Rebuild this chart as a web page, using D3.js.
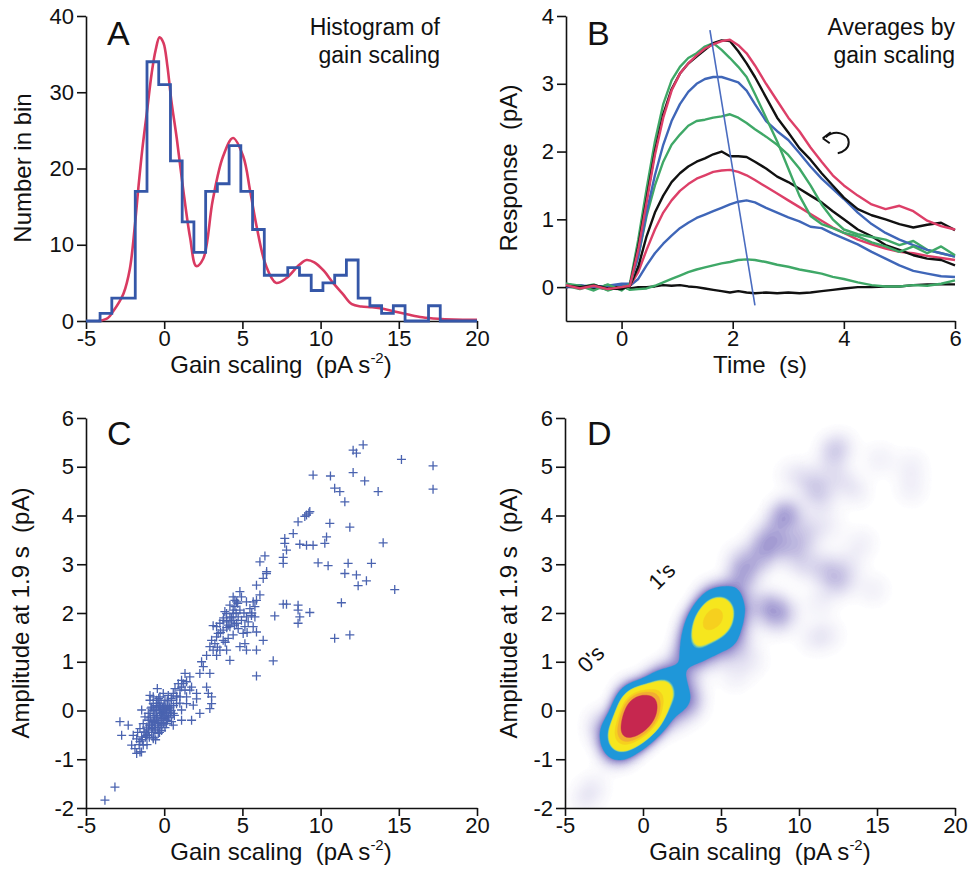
<!DOCTYPE html>
<html><head><meta charset="utf-8">
<script src="https://cdn.jsdelivr.net/npm/d3@7"></script>
<style>
body{margin:0;background:#fff}
svg{display:block}
text{font-family:"Liberation Sans",Arial,Helvetica,sans-serif;fill:#111}
</style>
</head><body>
<svg id="fig" width="969" height="880"></svg>
<script>
// ---------------- DATA ----------------
// Panel A: histogram of gain scaling
const histStart = -4.1, histWidth = 0.75;
const histCounts = [1,3,3,17,34,31,21,13,9,17,18,23,17,12,6,6,7,6,4,5,6,8,3,2,1,2,0,0,2];
// Panel A: fitted curve
const fitX = [-4.2,-3.6,-3.25,-2.9,-2.6,-2.2,-1.9,-1.65,-1.4,-1.1,-0.8,-0.55,-0.3,-0.05,0.2,0.45,0.8,1.2,1.65,2.05,2.5,3.1,3.75,4.4,5.05,5.5,5.9,6.5,7.15,7.8,8.6,9.1,9.6,10.2,10.8,11.4,12.0,12.6,13.3,14.0,14.8,15.6,16.5,17.5,18.5,20];
const fitY = [0,0.4,1.3,2.4,3.6,6.8,12.0,17.5,22.5,27.5,32.5,35.5,37.2,36.5,33.5,29,24,17.5,11,7.2,8.2,15.8,21.5,24,21.6,17,12.5,7.3,5.0,5.6,7.3,8.0,7.7,6.6,5.0,3.6,2.2,1.9,1.8,1.6,1.2,0.85,0.5,0.3,0.2,0.15];
const histXTicks = [-5,0,5,10,15,20];
const histYTicks = [0,10,20,30,40];

// Panel B: averaged responses
const traceTime = [-1,-0.75,-0.5,-0.25,0,0.15,0.3,0.45,0.6,0.75,0.9,1.05,1.2,1.35,1.5,1.65,1.8,1.95,2.1,2.25,2.4,2.6,2.8,3.0,3.2,3.4,3.6,3.8,4.0,4.25,4.5,4.75,5.0,5.25,5.5,5.75,6.0];
const traceBlackLow = [0,0.02,0,-0.03,0,-0.02,0,0,0.01,0.03,0.02,0.03,0.01,0,-0.02,-0.04,-0.06,-0.08,-0.06,-0.08,-0.09,-0.08,-0.09,-0.08,-0.09,-0.08,-0.06,-0.04,-0.02,0,0,0.01,0.01,0.03,0.04,0.04,0.04];
const traceGreenLow = [0.05,0,0.04,-0.05,0.02,-0.04,-0.03,-0.02,0.02,0.07,0.12,0.17,0.22,0.26,0.29,0.32,0.35,0.37,0.4,0.41,0.4,0.37,0.33,0.3,0.26,0.23,0.2,0.15,0.12,0.07,0.03,0.01,0.01,0.03,0.02,0.05,0.1];
const traceBlueMid = [0,0,0.02,0,0.03,0.02,0.12,0.32,0.5,0.64,0.76,0.87,0.95,1.02,1.07,1.12,1.17,1.22,1.26,1.28,1.25,1.17,1.1,1.03,0.97,0.89,0.87,0.79,0.72,0.63,0.52,0.42,0.32,0.24,0.2,0.16,0.15];
const traceRedMid = [0,0.01,-0.01,0,0,0.02,0.22,0.55,0.85,1.1,1.28,1.42,1.52,1.6,1.65,1.7,1.72,1.73,1.7,1.65,1.58,1.48,1.38,1.28,1.18,1.08,0.98,0.88,0.8,0.7,0.63,0.57,0.52,0.5,0.46,0.43,0.4];
const traceBlackMid = [0,0.02,-0.02,0.03,-0.02,0.02,0.3,0.75,1.1,1.35,1.55,1.68,1.78,1.85,1.9,1.96,2.0,1.93,1.93,1.92,1.85,1.75,1.63,1.55,1.45,1.35,1.25,1.12,1.0,0.85,0.75,0.62,0.55,0.47,0.42,0.4,0.32];
const traceGreenMid = [0.02,-0.03,0.03,-0.04,0,0.03,0.45,1.05,1.5,1.85,2.1,2.25,2.38,2.45,2.47,2.5,2.52,2.55,2.5,2.42,2.33,2.22,2.1,1.95,1.75,1.5,1.22,1.0,0.85,0.78,0.74,0.7,0.62,0.68,0.55,0.5,0.45];
const traceBlueTop = [0,0.03,0,0.02,0.05,0.05,0.45,1.1,1.65,2.1,2.45,2.7,2.88,3.0,3.07,3.1,3.1,3.06,3.02,2.9,2.7,2.45,2.3,2.17,1.98,1.78,1.6,1.45,1.3,1.1,0.93,0.8,0.7,0.62,0.55,0.5,0.45];
const traceGreenTop = [0.05,0.02,-0.05,0.04,-0.05,0.05,0.7,1.45,2.15,2.7,3.05,3.25,3.38,3.45,3.55,3.6,3.5,3.38,3.25,3.1,2.85,2.5,2.15,1.75,1.35,1.05,0.93,0.87,0.8,0.75,0.66,0.6,0.52,0.6,0.5,0.6,0.47];
const traceBlackTop = [0.02,0,0.03,-0.02,-0.03,0.02,0.6,1.3,2.0,2.55,2.92,3.15,3.3,3.4,3.5,3.6,3.64,3.63,3.48,3.3,3.1,2.8,2.5,2.28,2.05,1.88,1.68,1.5,1.32,1.15,1.06,1.0,0.93,0.88,0.92,0.95,0.84];
const traceRedTop = [0.03,-0.02,0.02,-0.03,0,0.02,0.55,1.25,1.95,2.5,2.9,3.15,3.3,3.42,3.52,3.58,3.63,3.65,3.57,3.45,3.27,3.0,2.75,2.5,2.3,2.06,1.85,1.65,1.5,1.35,1.22,1.15,1.2,1.12,0.98,0.9,0.85];
const traceColors = ["#111111","#3fa867","#3f66b8","#dd3f68","#111111","#3fa867","#3f66b8","#3fa867","#111111","#dd3f68"];
const traces = [traceBlackLow,traceGreenLow,traceBlueMid,traceRedMid,traceBlackMid,traceGreenMid,traceBlueTop,traceGreenTop,traceBlackTop,traceRedTop];
const peakLineT = [1.59,2.4];
const peakLineV = [3.79,-0.27];
const timeTicks = [0,2,4,6];
const respTicks = [0,1,2,3,4];

// Panels C and D: gain scaling vs amplitude at 1.9 s (one entry per cell)
const gainScaling = [
12.72,12.08,12.29,15.17,17.19,17.19,9.52,10.63,12.08,12.82,10.9,11.23,11.55,13.68,9.31,9.1,8.99,8.56,10.59,11.87,
8.25,7.71,10.38,7.71,10.27,8.67,9.1,9.52,14.0,7.82,7.61,7.61,9.84,10.48,11.76,13.25,11.55,12.29,12.93,12.4,
14.74,6.44,6.12,6.54,6.33,5.9,6.12,7.07,7.61,7.82,8.56,8.56,8.67,8.56,9.31,11.33,10.9,11.87,6.97,5.9,
6.33,5.9,5.9,9.25,6.55,
4.84,4.94,4.63,4.2,4.41,3.99,4.2,3.77,3.99,4.41,3.56,3.35,3.13,3.77,4.2,4.63,5.26,5.48,5.69,5.8,
5.9,5.26,5.37,5.16,5.69,5.05,4.41,4.09,3.77,3.35,3.03,2.92,3.13,3.56,3.99,4.2,5.26,5.16,4.84,3.35,
2.71,2.39,2.5,2.92,2.71,2.82,3.03,3.03,2.92,2.28,2.07,1.75,2.07,1.64,1.43,1.11,1.33,1.43,1.75,1.11,
0.58,4.41,4.73,4.84,4.52,4.3,4.09,3.88,3.45,3.24,4.73,4.94,5.58,4.52,4.41,5.8,2.28,
4.0,4.3,4.5,3.8,4.6,3.6,5.1,3.9,4.7,5.3,3.4,5.6,
-2.83,-2.3,-2.72,-1.98,-1.76,-1.55,-1.87,-1.76,-1.55,-1.34,-1.44,-1.23,-1.34,-1.12,-1.02,-0.91,-0.8,-0.91,-0.7,-0.59,
-0.49,-0.7,-0.8,-1.12,-0.7,-0.38,-0.27,-0.17,-0.06,0.05,0.15,0.26,0.37,0.47,0.58,0.79,1.01,1.11,0.15,-0.38,
-0.49,-0.27,0.58,0.69,1.22,1.01,0.47,-0.06,-1.02,-1.23,-0.59,-0.17,-1.55,-2.08,-1.44,-0.91,0.26,1.43,1.86,1.64,
1.33,1.11,0.9,0.79,-0.06,-0.44,-0.7,
-0.5,-0.3,-0.1,0.1,-0.6,-0.4,-0.2,0.0,0.3,-0.8,-1.0,-1.2,-0.9,-0.7,-0.2,0.2,0.4,0.6,-1.4,-1.1,
-0.5,-0.3,0.0,0.2,-0.65,-1.3,-0.85,-0.15,0.45,0.8,-1.6,-1.45,-0.95,-0.35,0.05,0.65,1.0,-0.55,-1.7,-0.25,
-0.45,-0.25,-0.05,0.15,-0.6,-0.35,-0.15,0.05,0.25,-0.75,-0.95,-0.5,-0.3,-0.1,0.1,0.35,-0.8,-0.55,-0.2,0.0,
0.2,-0.65,-0.4,-1.05,-0.85,0.45,0.3,-0.05,-0.7,-0.45,
-3.79,-3.15];
const amplitude = [
5.45,5.34,5.28,5.15,5.02,4.54,4.83,4.81,4.88,4.71,4.56,4.49,4.28,4.49,4.08,4.01,3.98,3.87,3.84,3.76,
3.63,3.53,3.56,3.43,3.43,3.41,3.39,3.39,3.44,3.29,3.14,3.02,3.03,2.97,3.02,3.02,2.81,2.78,2.66,2.56,
2.48,3.17,3.05,2.81,2.71,2.57,2.37,1.94,2.18,2.18,2.16,2.06,1.92,1.79,2.01,2.21,1.48,1.55,1.02,0.71,
1.44,1.24,1.61,4.05,2.85,
2.44,2.33,2.23,2.16,2.06,1.99,1.92,1.85,1.82,1.85,1.79,1.72,1.74,1.65,1.72,1.79,2.23,2.09,2.23,2.13,
2.26,1.92,1.82,1.72,1.72,1.58,1.55,1.48,1.44,1.51,1.44,1.31,1.24,1.24,1.24,1.03,1.24,1.37,1.31,1.13,
1.13,1.0,0.9,0.76,0.48,0.35,0.28,0.14,0.04,-0.06,0.24,0.48,0.35,0.69,0.59,0.48,0.42,0.28,-0.2,-0.2,
-0.3,1.99,1.92,2.06,2.13,1.85,1.75,2.03,1.58,1.37,1.68,1.85,1.95,2.26,2.33,1.92,0.76,
1.7,1.9,1.75,1.9,2.0,1.6,2.0,1.4,2.2,1.6,1.3,2.0,
-0.23,-0.3,-0.51,-0.51,-0.58,-0.64,-0.78,-0.88,-0.85,-0.71,-0.54,-0.44,-0.27,-0.34,-0.2,-0.06,0.07,0.21,0.14,0.01,
-0.13,-0.23,-0.37,-0.51,-0.58,-0.47,-0.27,-0.06,0.07,0.21,0.01,-0.13,0.07,0.21,0.35,0.14,0.28,0.01,-0.27,0.07,
0.21,0.28,-0.06,0.45,0.55,0.42,-0.23,-0.16,-0.06,-0.13,-0.34,-0.41,-0.37,-0.71,0.01,0.31,0.31,0.14,0.11,0.42,
0.76,0.62,0.55,0.28,0.35,0.45,0.28,
-0.1,0.0,-0.05,0.05,-0.25,-0.35,-0.2,-0.1,0.1,-0.3,-0.4,-0.55,-0.15,0.0,0.15,0.2,-0.05,0.1,-0.6,-0.7,
0.1,-0.45,0.1,-0.2,-0.45,-0.45,0.05,-0.3,0.25,0.3,-0.7,-0.85,-0.55,0.25,-0.35,-0.1,0.15,-0.6,-0.45,0.05,
-0.15,-0.05,0.0,-0.05,-0.2,-0.25,-0.15,-0.2,0.0,-0.35,-0.3,0.0,0.1,0.05,-0.1,0.05,-0.45,-0.4,-0.35,0.0,
0.1,-0.1,-0.3,-0.5,-0.2,0.0,-0.15,-0.25,-0.55,0.15,
-1.84,-1.57];
const gainTicks = [-5,0,5,10,15,20];
const ampTicks = [-2,-1,0,1,2,3,4,5,6];

// ---------------- DRAWING ----------------
const svg = d3.select("#fig");
svg.append("rect").attr("width",969).attr("height",880).attr("fill","#fff");
const TICK_FS = 22, TITLE_FS = 24, LETTER_FS = 34, NOTE_FS = 23;

const xA = d3.scaleLinear().domain([-5,20]).range([86,477]);
const yA = d3.scaleLinear().domain([0,40]).range([321,16]);
const xB = d3.scaleLinear().domain([-1,6]).range([566,955]);
const yB = d3.scaleLinear().domain([-0.5,4]).range([321,16]);
const xC = d3.scaleLinear().domain([-5,20]).range([86,477]);
const yC = d3.scaleLinear().domain([-2,6]).range([808,418]);
const xD = d3.scaleLinear().domain([-5,20]).range([565,955]);
const yD = d3.scaleLinear().domain([-2,6]).range([808,418]);

function drawAxes(xs, ys, xt, yt) {
  const x0 = xs.range()[0], y0 = ys.range()[0];
  const gx = svg.append("g").attr("transform",`translate(0,${y0})`)
    .call(d3.axisBottom(xs).tickValues(xt).tickSize(8).tickSizeOuter(0).tickPadding(1).tickFormat(d=>String(d)));
  const gy = svg.append("g").attr("transform",`translate(${x0},0)`)
    .call(d3.axisLeft(ys).tickValues(yt).tickSize(9).tickSizeOuter(0).tickPadding(3).tickFormat(d=>String(d)));
  [gx,gy].forEach(g=>{
    g.select(".domain").attr("stroke","#111").attr("stroke-width",1.6);
    g.selectAll(".tick line").attr("stroke","#111").attr("stroke-width",1.6);
    g.selectAll(".tick text").attr("font-size",TICK_FS).attr("fill","#111")
      .attr("font-family","'Liberation Sans',Arial,sans-serif");
  });
}
function xTitle(cx, y, parts) {
  const t = svg.append("text").attr("x",cx).attr("y",y).attr("text-anchor","middle")
    .attr("font-size",TITLE_FS).style("white-space","pre");
  parts(t);
}
function gainTitle(t){
  t.append("tspan").text("Gain scaling  (pA s");
  t.append("tspan").attr("dy",-10).attr("font-size",15).text("-2");
  t.append("tspan").attr("dy",10).text(")");
}
function yTitle(x, cy, txt) {
  svg.append("text").attr("transform",`translate(${x},${cy}) rotate(-90)`)
    .attr("text-anchor","middle").attr("font-size",TITLE_FS).style("white-space","pre").text(txt);
}
function letter(x,y,s){ svg.append("text").attr("x",x).attr("y",y).attr("font-size",LETTER_FS).text(s); }
function note(x,y,lines){
  lines.forEach((l,i)=>svg.append("text").attr("x",x).attr("y",y+i*28).attr("text-anchor","end").attr("font-size",NOTE_FS).text(l));
}

// ---- Panel A ----
drawAxes(xA,yA,histXTicks,histYTicks);
const fitPts = fitX.map((x,i)=>[x,fitY[i]]);
svg.append("path").attr("d",d3.line().x(d=>xA(d[0])).y(d=>yA(d[1])).curve(d3.curveCatmullRom.alpha(0.5))(fitPts))
  .attr("fill","none").attr("stroke","#d93a61").attr("stroke-width",2.6);
const histPts = [[-5,0],[histStart,0]];
histCounts.forEach((c,i)=>{
  const e0 = histStart+i*histWidth, e1 = e0+histWidth;
  histPts.push([e0,c]); histPts.push([e1,c]);
});
histPts.push([histStart+histCounts.length*histWidth,0]); histPts.push([20,0]);
svg.append("path").attr("d",d3.line().x(d=>xA(d[0])).y(d=>yA(d[1]))(histPts))
  .attr("fill","none").attr("stroke","#3557a8").attr("stroke-width",2.8).attr("stroke-linejoin","miter");
letter(107,45,"A");
note(440,35,["Histogram of","gain scaling"]);
yTitle(31,168,"Number in bin");
xTitle(281,373,gainTitle);

// ---- Panel B ----
drawAxes(xB,yB,timeTicks,respTicks);
const lineB = d3.line().x((d,i)=>xB(traceTime[i])).y(d=>yB(d)).curve(d3.curveLinear);
traces.forEach((tr,k)=>{
  svg.append("path").attr("d",lineB(tr)).attr("fill","none")
    .attr("stroke",traceColors[k]).attr("stroke-width",2.4).attr("stroke-linejoin","round");
});
svg.append("line").attr("x1",xB(peakLineT[0])).attr("y1",yB(peakLineV[0]))
  .attr("x2",xB(peakLineT[1])).attr("y2",yB(peakLineV[1]))
  .attr("stroke","#4a6cc0").attr("stroke-width",1.6);
// curled arrow annotation
{
  const ax = xB(3.62), ay = yB(2.3);
  const g = svg.append("g").attr("transform",`translate(${ax},${ay})`);
  g.append("path").attr("d","M3,6 C12,-2 26,2 26,11 C26,17 21,21 15,22")
    .attr("fill","none").attr("stroke","#111").attr("stroke-width",2);
  g.append("path").attr("d","M0,7 L8,1 M0,7 L7,12").attr("fill","none").attr("stroke","#111").attr("stroke-width",2);
}
letter(587,45,"B");
note(955,35,["Averages by","gain scaling"]);
yTitle(517,168,"Response  (pA)");
xTitle(760,373,t=>t.text("Time  (s)"));

// ---- Panel C ----
drawAxes(xC,yC,gainTicks,ampTicks);
svg.append("g").selectAll("path").data(gainScaling).join("path")
  .attr("transform",(d,i)=>`translate(${xC(d)},${yC(amplitude[i])})`)
  .attr("d","M-4.5,0H4.5M0,-4.5V4.5").attr("stroke","#4a63b0").attr("stroke-width",1.3).attr("fill","none");
letter(107,445,"C");
yTitle(29,613,"Amplitude at 1.9 s  (pA)");
xTitle(281,860,gainTitle);

// ---- Panel D ---- (kernel density of the same points)
svg.append("defs").append("clipPath").attr("id","clipD").append("rect")
  .attr("x",xD.range()[0]).attr("y",yD.range()[1])
  .attr("width",xD.range()[1]-xD.range()[0]).attr("height",yD.range()[0]-yD.range()[1]);
const pts = gainScaling.map((g,i)=>[g,amplitude[i]]);
const bw = 10;
const densGen = d3.contourDensity().x(d=>xD(d[0])).y(d=>yD(d[1])).size([969,880]).bandwidth(bw).cellSize(2);
let maxD = null;
try { if (densGen.contours) maxD = densGen.contours(pts).max; } catch(e) {}
if (!maxD) { const cs = densGen.thresholds(400)(pts); maxD = cs[cs.length-1].value; }
const tBlue = 0.1, tYel = 0.24, tRed = 0.55;
const levels = [];
const NP = 50;
const purple = d3.interpolateRgb("#ffffff","#8a80c6");
for (let k=0;k<NP;k++){
  const r = 0.04*Math.pow(1/0.04,k/NP);
  levels.push({v:maxD*tBlue*r, c:purple(Math.pow(r,1.25))});
}
levels.push({v:maxD*tBlue, c:"#1f97d9"});
levels.push({v:maxD*tYel*0.92, c:"#52b5c0"});
levels.push({v:maxD*tYel*0.96, c:"#aad87a"});
levels.push({v:maxD*tYel, c:"#f6e61e"});
levels.push({v:maxD*0.38, c:"#f6d01e"});
levels.push({v:maxD*0.45, c:"#f2ad32"});
levels.push({v:maxD*tRed, c:"#c6274f"});
const contours = densGen.thresholds(levels.map(l=>l.v))(pts);
const gDen = svg.append("g").attr("clip-path","url(#clipD)");
gDen.selectAll("path").data(contours).join("path")
  .attr("d",d3.geoPath())
  .attr("fill",(d,i)=>levels[i].c)
  .attr("stroke",(d,i)=>levels[i].c).attr("stroke-width",0.4);
drawAxes(xD,yD,gainTicks,ampTicks);
letter(587,445,"D");
yTitle(517,613,"Amplitude at 1.9 s  (pA)");
xTitle(760,860,gainTitle);
svg.append("text").attr("transform",`translate(${xD(-3.0)},${yD(0.95)}) rotate(-45)`)
  .attr("font-size",22).attr("text-anchor","middle").text("0's");
svg.append("text").attr("transform",`translate(${xD(1.55)},${yD(2.65)}) rotate(-45)`)
  .attr("font-size",22).attr("text-anchor","middle").text("1's");
</script>
</body></html>
